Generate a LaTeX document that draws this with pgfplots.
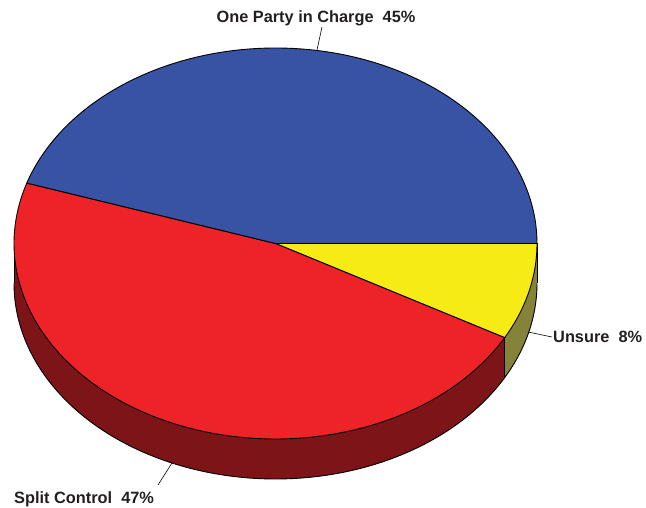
\documentclass[border=0pt]{standalone}
\usepackage{pgfplots}
\pgfplotsset{compat=1.18}
\usepgfplotslibrary{fillbetween}
\usepackage{fontspec}
\setmainfont{Liberation Sans}
\definecolor{pblue}{HTML}{3953A4}
\definecolor{pred}{HTML}{EE2327}
\definecolor{pyellow}{HTML}{F6EB14}
\definecolor{pdarkred}{HTML}{7D1518}
\definecolor{polive}{HTML}{85823A}
\definecolor{ptext}{HTML}{231F20}
\begin{document}
\begin{tikzpicture}
\def\cx{275.5}\def\cy{264.5}\def\rx{261.5}\def\ry{195.5}\def\dep{40}
% shares (percent): Unsure 8, Split Control 47, One Party in Charge 45
\pgfmathsetmacro\aU{-8*3.6}
\pgfmathsetmacro\aS{\aU-47*3.6}
\pgfmathsetmacro\aO{\aS-45*3.6}
\begin{axis}[width=646bp,height=508bp,scale only axis,
  xmin=0,xmax=646,ymin=0,ymax=508,hide axis,clip=false,samples=150,
  every axis plot/.append style={line width=0.9bp}]
\path[draw=none] (rel axis cs:0,0) rectangle (rel axis cs:1,1);
% sides
\addplot[name path=rt, draw=none, domain=-180:\aU] ({\cx+\rx*cos(x)},{\cy+\ry*sin(x)});
\addplot[name path=rb, draw=none, domain=-180:\aU] ({\cx+\rx*cos(x)},{\cy-\dep+\ry*sin(x)});
\addplot[pdarkred] fill between[of=rt and rb];
\addplot[name path=yt, draw=none, domain=\aU:0, samples=40] ({\cx+\rx*cos(x)},{\cy+\ry*sin(x)});
\addplot[name path=yb, draw=none, domain=\aU:0, samples=40] ({\cx+\rx*cos(x)},{\cy-\dep+\ry*sin(x)});
\addplot[polive] fill between[of=yt and yb];
% side outlines
\addplot[black, domain=-180:0] ({\cx+\rx*cos(x)},{\cy-\dep+\ry*sin(x)});
\addplot[black, domain=0:1, samples=2] ({\cx-\rx},{\cy-x*\dep});
\addplot[black, domain=0:1, samples=2] ({\cx+\rx},{\cy-x*\dep});
\addplot[black, domain=0:1, samples=2] ({\cx+\rx*cos(\aU)},{\cy+\ry*sin(\aU)-x*\dep});
% top sectors
\addplot[fill=pyellow, draw=black, domain=\aU:0, samples=40] ({\cx+\rx*cos(x)},{\cy+\ry*sin(x)}) -- (axis cs:\cx,\cy) -- cycle;
\addplot[fill=pred, draw=black, domain=\aS:\aU] ({\cx+\rx*cos(x)},{\cy+\ry*sin(x)}) -- (axis cs:\cx,\cy) -- cycle;
\addplot[fill=pblue, draw=black, domain=\aO:\aS] ({\cx+\rx*cos(x)},{\cy+\ry*sin(x)}) -- (axis cs:\cx,\cy) -- cycle;
% leader lines
\addplot[black, line width=0.6bp] coordinates {(317,458) (322,481)};
\addplot[black, line width=0.6bp] coordinates {(528,176) (552,171)};
\addplot[black, line width=0.6bp] coordinates {(172,45) (158,23)};
% labels
\node[anchor=base, font=\fontsize{16.4}{19}\selectfont\bfseries, text=ptext] at (axis cs:316,485) {One Party in Charge\ \ 45\%};
\node[anchor=base west, inner sep=0pt, font=\fontsize{16.4}{19}\selectfont\bfseries, text=ptext] at (axis cs:553,165) {Unsure\ \ 8\%};
\node[anchor=base west, inner sep=0pt, font=\fontsize{16.4}{19}\selectfont\bfseries, text=ptext] at (axis cs:14,5) {Split Control\ \ 47\%};
\end{axis}
\end{tikzpicture}
\end{document}
